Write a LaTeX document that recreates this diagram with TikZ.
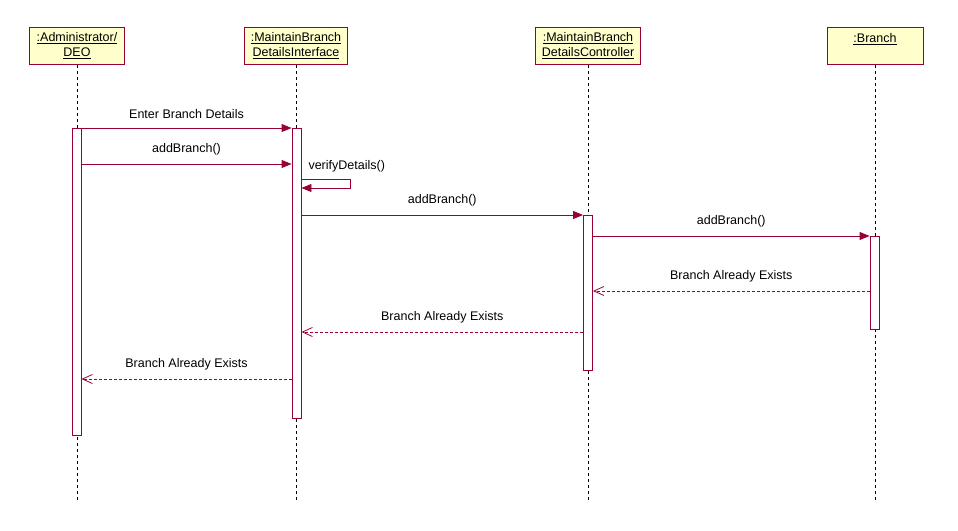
\documentclass[tikz,border=0pt]{standalone}
\usepackage{fontspec}
\setmainfont{Liberation Sans}
\usetikzlibrary{arrows.meta}
\definecolor{umlred}{RGB}{153,0,51}
\definecolor{umlfill}{RGB}{255,255,204}
\tikzset{
  obj/.style={draw=umlred, fill=umlfill, line width=0.9pt, minimum height=37pt, inner sep=1pt, anchor=north, align=center},
  bar/.style={draw=umlred, fill=white, line width=0.9pt, minimum width=9pt, inner sep=0pt, anchor=north},
  life/.style={black, line width=0.8pt, dash pattern=on 3pt off 3pt},
  call/.style={draw=umlred, line width=0.9pt, -{Triangle[length=10pt,width=8pt]}},
  reply/.style={draw=umlred, line width=0.8pt, dash pattern=on 3pt off 2pt, -{Straight Barb[length=10pt,width=9pt]}},
  msg/.style={midway, above=5.5pt, text=black}
}

\begin{document}
\begin{tikzpicture}[x=1pt, y=-1pt, font=\fontsize{12.5}{15}\selectfont]
\useasboundingbox (0,0) rectangle (958,530);

\node[obj, minimum width=95pt] (admin) at (77,27) {\underline{:Administrator/}\\\underline{DEO}};
\node[obj, minimum width=103pt] (iface) at (296,27) {\underline{:MaintainBranch}\\\underline{DetailsInterface}};
\node[obj, minimum width=105pt] (ctrl) at (588,27) {\underline{:MaintainBranch}\\\underline{DetailsController}};
\node[obj, minimum width=96pt] (branch) at (875,27) {\underline{:Branch}\\\mbox{}};

\coordinate (adminEnd) at (77,500);
\coordinate (ifaceEnd) at (296,500);
\coordinate (ctrlEnd) at (588,500);
\coordinate (branchEnd) at (875,500);

\draw[life] (admin.south) -- (adminEnd);
\draw[life] (iface.south) -- (ifaceEnd);
\draw[life] (ctrl.south) -- (ctrlEnd);
\draw[life] (branch.south) -- (branchEnd);

\node[bar, minimum height=307pt] (actA) at (76.5,128) {};
\node[bar, minimum height=290pt] (actI) at (296.5,128) {};
\node[bar, minimum height=155pt] (actC) at (588,215) {};
\node[bar, minimum height=93pt] (actB) at (874.5,236) {};

\draw[call] (actA.east |- 0,128) -- (actI.west |- 0,128) node[msg] {Enter Branch Details};
\draw[call] (actA.east |- 0,164) -- (actI.west |- 0,164) node[msg] {addBranch()};

\coordinate (selfA) at (350,179);
\coordinate (selfB) at (350,188);
\draw[call] (actI.east |- selfA) -- (selfA) -- (selfB) -- (actI.east |- selfB);
\node[anchor=west] (verify) at (305,166) {verifyDetails()};

\draw[call] (actI.east |- 0,215) -- (actC.west |- 0,215) node[msg] {addBranch()};
\draw[call] (actC.east |- 0,236) -- (actB.west |- 0,236) node[msg] {addBranch()};

\draw[reply] (actB.west |- 0,291) -- (actC.east |- 0,291) node[msg] {Branch Already Exists};
\draw[reply] (actC.west |- 0,332) -- (actI.east |- 0,332) node[msg] {Branch Already Exists};
\draw[reply] (actI.west |- 0,379) -- (actA.east |- 0,379) node[msg] {Branch Already Exists};
\end{tikzpicture}
\end{document}
